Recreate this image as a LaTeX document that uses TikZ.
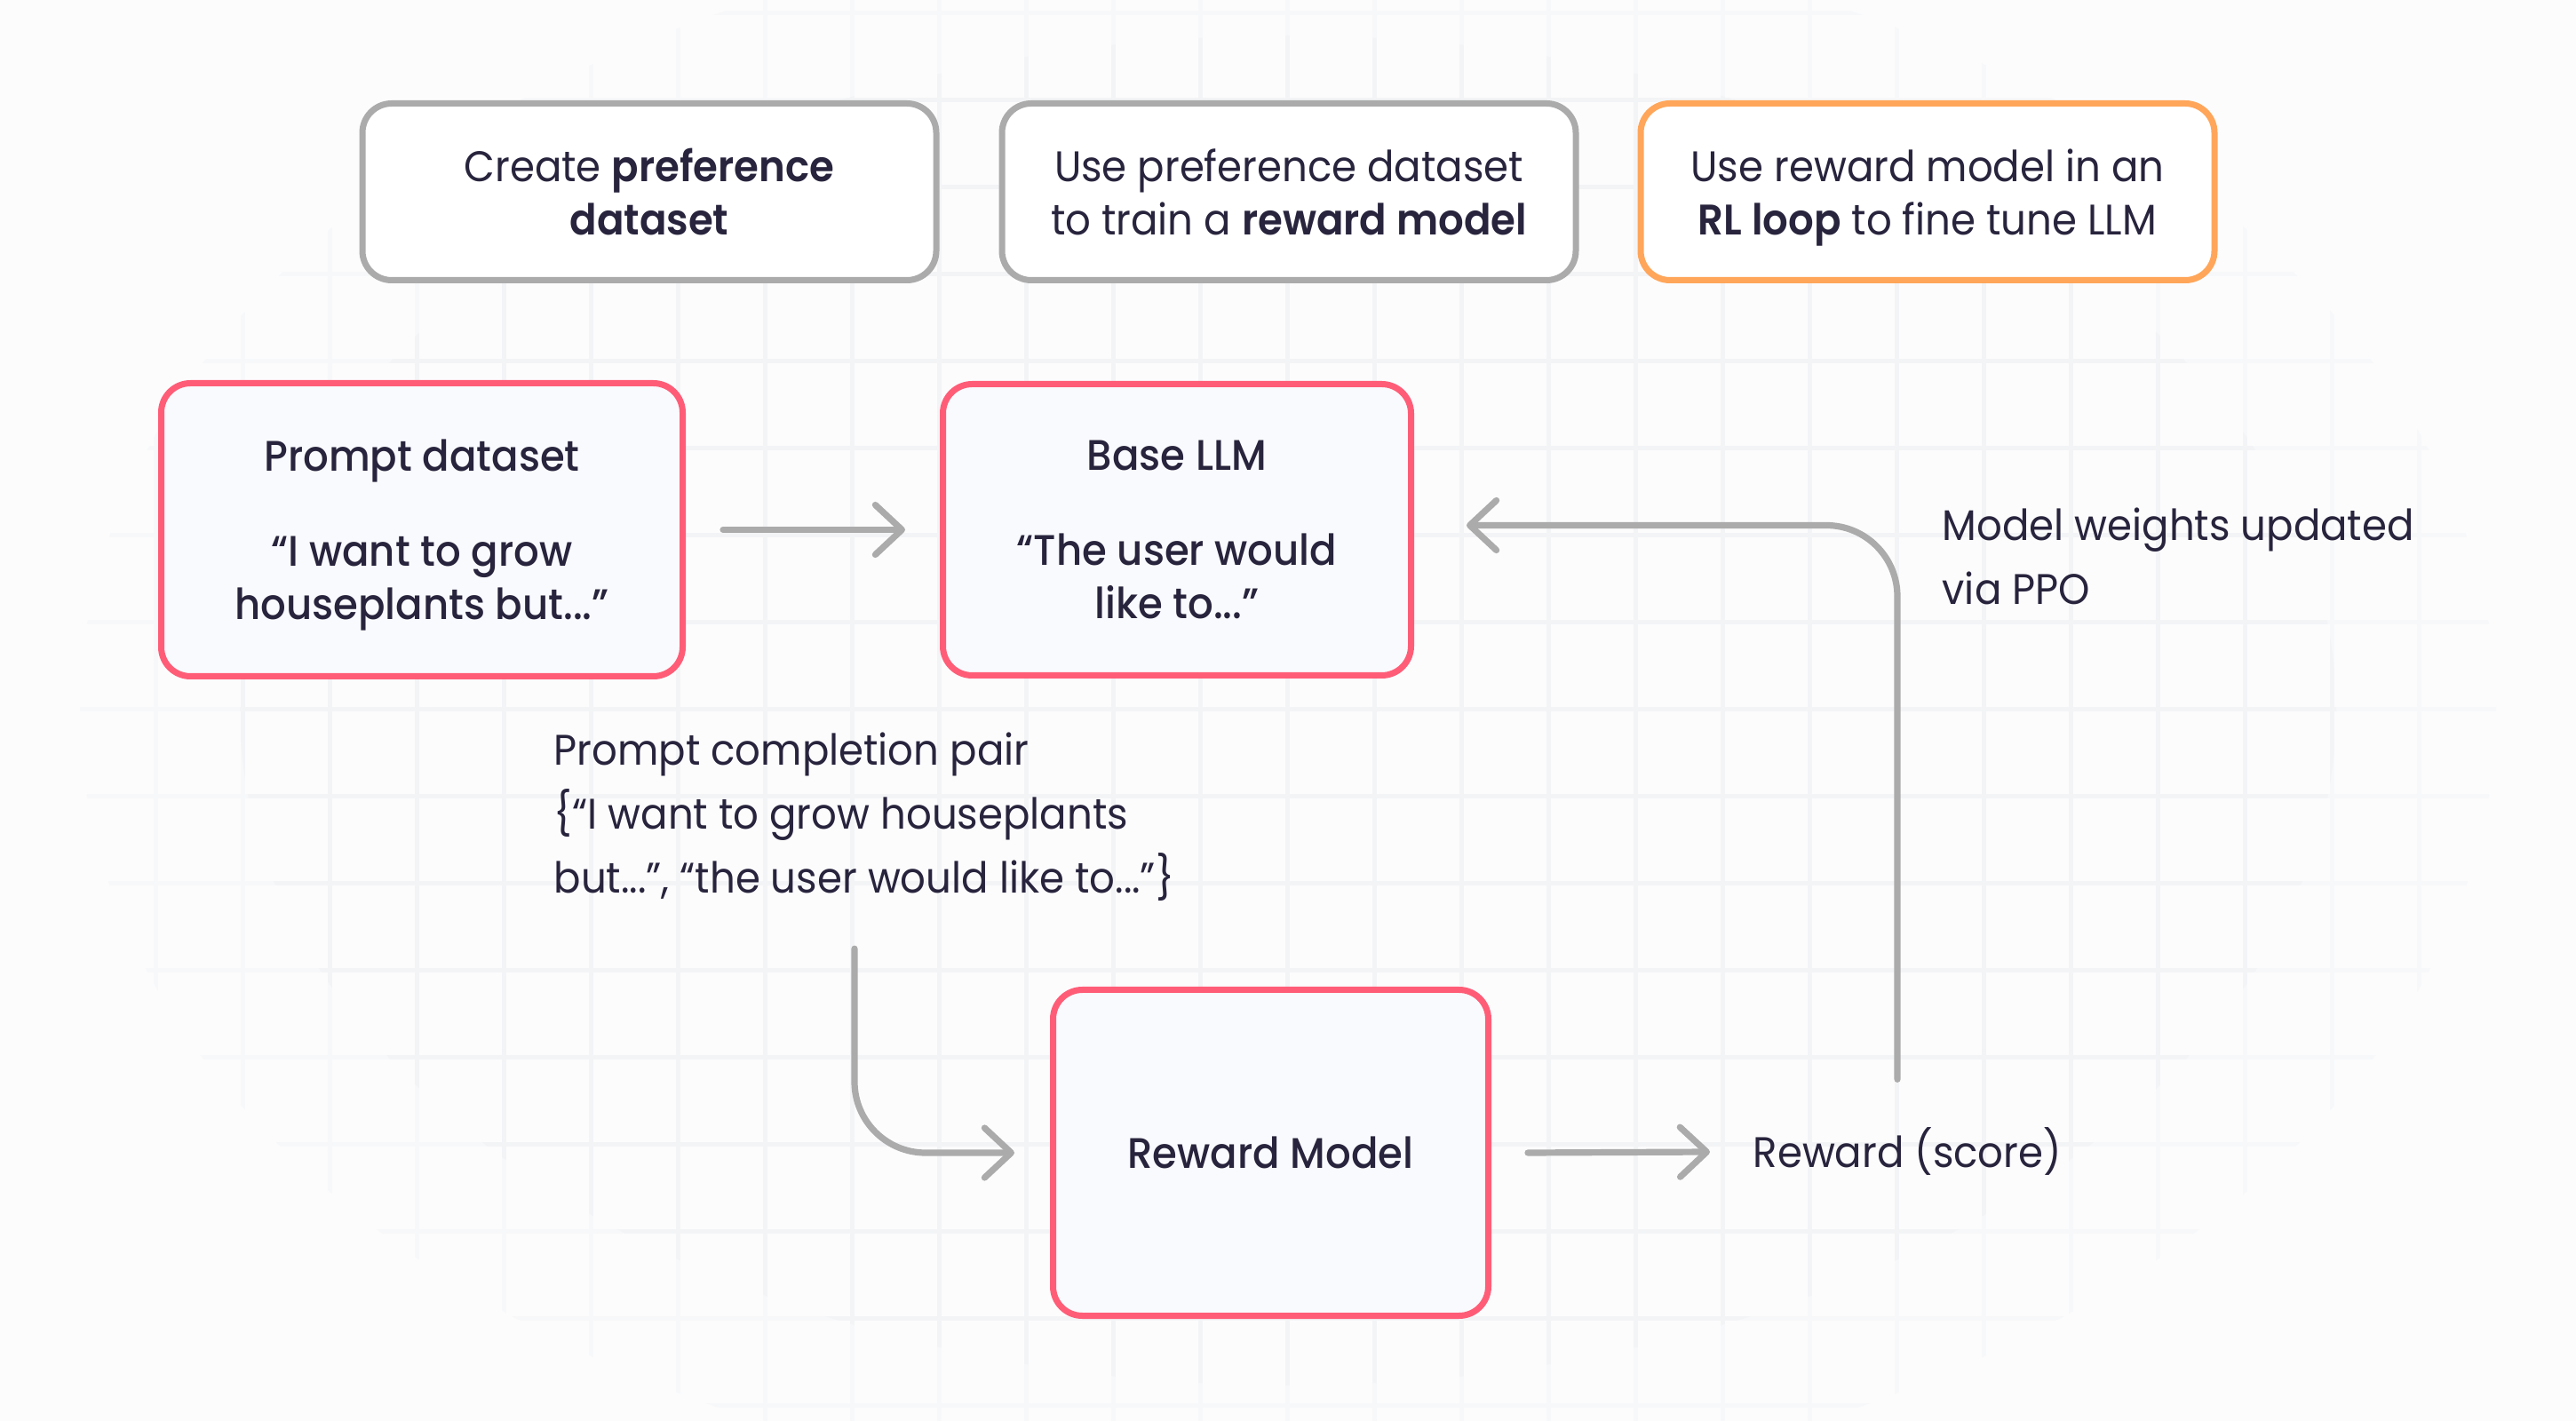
\documentclass[tikz,border=0pt]{standalone}
\usepackage{fontspec}
\setmainfont{Poppins}[BoldFont={Poppins SemiBold}, FakeStretch=0.935]
\newfontfamily\medfont{Poppins Medium}[FakeStretch=0.935]
\usetikzlibrary{positioning, arrows.meta}
\definecolor{inkc}{HTML}{28243D}
\definecolor{edgegray}{HTML}{ABABAB}
\definecolor{blockpink}{HTML}{FF5D77}
\definecolor{loopgold}{HTML}{FFA65A}
\definecolor{blockfill}{HTML}{F9FAFD}
\definecolor{paperc}{HTML}{FCFCFD}
\definecolor{gridc}{HTML}{F3F4F6}
\definecolor{gridfaint}{HTML}{F7F8F9}

\begin{document}
\begin{tikzpicture}[
	font=\fontsize{13.7pt}{17.07pt}\selectfont, text=inkc,
	stage/.style={draw=edgegray, line width=0.07cm, rounded corners=0.33cm, fill=white,
		minimum width=6.46cm, minimum height=1.99cm, align=center, inner sep=0pt, text depth=0pt},
	block/.style={draw=blockpink, line width=0.07cm, rounded corners=0.33cm, fill=blockfill,
		align=center, inner sep=0pt, text depth=0pt, font=\medfont\fontsize{13.7pt}{17.07pt}\selectfont},
	note/.style={align=left, inner sep=0pt, font=\fontsize{13.7pt}{20.5pt}\selectfont},
	flow/.style={draw=edgegray, line width=0.072cm, line cap=round,
		-{Straight Barb[length=0.3cm, width=0.56cm, round]}}]
	\useasboundingbox (0,0) rectangle (29,-16);
	\fill[paperc] (0,0) rectangle (29,-16);
	% faint grid behind everything
	\begin{scope}
		\clip (14.5,-8) ellipse [x radius=13.6cm, y radius=8.9cm];
		\draw[gridfaint, line width=0.05cm, step=0.98cm, shift={(0.77,-0.15)}] (-1,-17) grid (29,1);
	\end{scope}
	\begin{scope}
		\clip (14.5,-8) ellipse [x radius=11.8cm, y radius=7.6cm];
		\draw[gridc, line width=0.05cm, step=0.98cm, shift={(0.77,-0.15)}] (-1,-17) grid (29,1);
	\end{scope}
	% three stages
	\node[stage] (prefset) at (7.31,-2.16) {Create \textbf{preference}\\\textbf{dataset}};
	\node[stage, right=0.67cm of prefset] (trainrm) {Use preference dataset\\to train a \textbf{reward model}};
	\node[stage, draw=loopgold, right=0.66cm of trainrm] (rlloop) {Use reward model in an\\\textbf{RL loop} to fine tune LLM};
	% RL loop
	\node[block, minimum width=5.87cm, minimum height=3.30cm] (prompts) at (4.75,-5.965)
		{Prompt dataset\\[13.4pt]“I want to grow\\houseplants but...”};
	\node[block, minimum width=5.27cm, minimum height=3.28cm, right=2.86cm of prompts] (basellm)
		{Base LLM\\[13.4pt]“The user would\\like to...”};
	\node[block, minimum width=4.90cm, minimum height=3.67cm] (rm) at (14.305,-12.98) {Reward Model};
	\node[note, anchor=north west] (pair) at (6.23,-8.24)
		{Prompt completion pair\\\{“I want to grow houseplants\\but...”, “the user would like to...”\}};
	\node[note, anchor=north west] (ppo) at (21.86,-5.71) {Model weights updated\\via PPO};
	\node[anchor=base west, inner sep=0pt, text height=0.36cm, text depth=0.1cm] (score) at (19.73,-13.15) {Reward (score)};
	\draw[flow] ([xshift=0.42cm]prompts.east) -- ([xshift=-0.39cm]basellm.west);
	\draw[flow] ([xshift=0.41cm]rm.east) -- ([xshift=-0.48cm, yshift=0.05cm]score.west);
	\draw[flow, rounded corners=0.8cm] ([xshift=1.63cm, yshift=0.63cm]score.north west) |- ([xshift=0.59cm, yshift=0.05cm]basellm.east);
	\draw[flow, rounded corners=0.8cm] ([xshift=3.39cm, yshift=-0.53cm]pair.south west) |- ([xshift=-0.4cm]rm.west);
\end{tikzpicture}
\end{document}
